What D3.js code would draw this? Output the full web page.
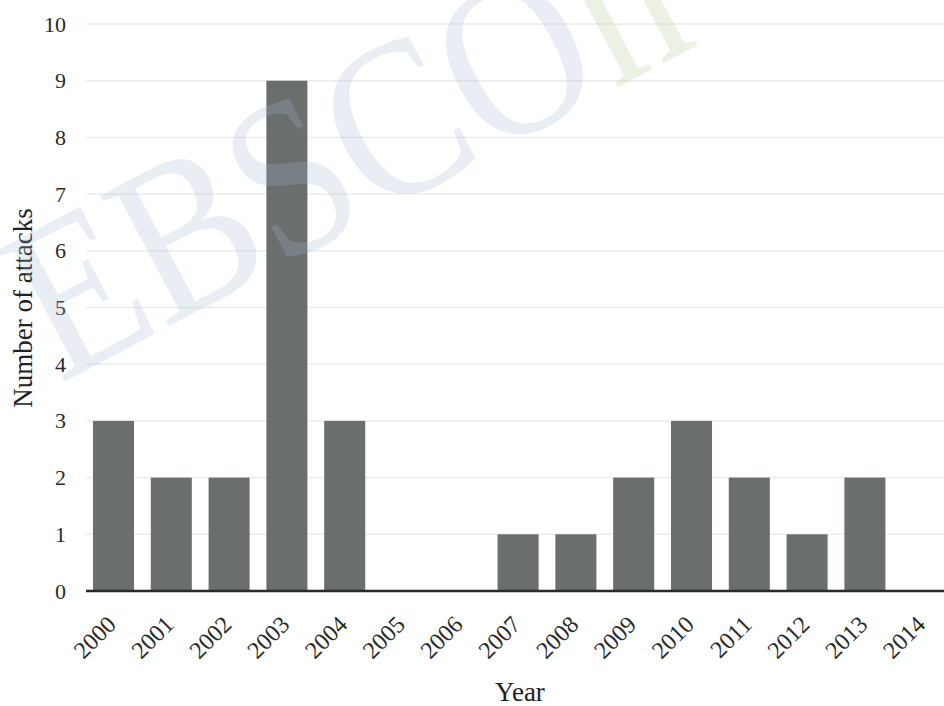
<!DOCTYPE html>
<html><head><meta charset="utf-8">
<script src="https://cdn.jsdelivr.net/npm/d3@7"></script>
<style>body{margin:0;background:#fff}svg{display:block}</style>
</head><body>
<svg id="c" width="944" height="706"></svg>
<script>
const years = ["2000","2001","2002","2003","2004","2005","2006","2007","2008","2009","2010","2011","2012","2013","2014"];
const attacks = [3,2,2,9,3,0,0,1,1,2,3,2,1,2,0];
const yTicks = [0,1,2,3,4,5,6,7,8,9,10];

const svg = d3.select("#c");
const font = "'Liberation Serif','Times New Roman',serif";

const x = d3.scaleBand().domain(years).range([84.6, 951.6]).paddingInner(0.29).paddingOuter(0.145);
const y = d3.scaleLinear().domain([0,10]).range([591, 24]);

// gridlines
svg.append("g").selectAll("line").data(yTicks.filter(d=>d>0)).join("line")
  .attr("x1",86).attr("x2",944).attr("y1",d=>y(d)).attr("y2",d=>y(d))
  .attr("stroke","#ececec").attr("stroke-width",1.5);

// bars
svg.append("g").selectAll("rect").data(years).join("rect")
  .attr("x",d=>x(d)).attr("width",x.bandwidth())
  .attr("y",(d,i)=>y(attacks[i])).attr("height",(d,i)=>y(0)-y(attacks[i]))
  .attr("fill","#6a6f6d");

// y axis
const ya = svg.append("g").attr("transform","translate(66,0)")
  .call(d3.axisLeft(y).tickValues(yTicks).tickSize(0).tickPadding(0));
ya.select(".domain").remove();
ya.selectAll("text").attr("font-family",font).attr("font-size",22).attr("fill","#2a2a2a");

// x axis
const xa = svg.append("g").attr("transform","translate(0,591)")
  .call(d3.axisBottom(x).tickSize(0).tickPadding(0));
xa.select(".domain").remove();
svg.append("line").attr("x1",86).attr("x2",944).attr("y1",591).attr("y2",591)
  .attr("stroke","#2a2a2a").attr("stroke-width",2.5);
xa.selectAll("text").attr("font-family",font).attr("font-size",24).attr("fill","#2a2a2a")
  .attr("text-anchor","end").attr("dy",0).attr("y",0)
  .attr("transform","translate(4,35) rotate(-45)");

// titles
svg.append("text").attr("x",520).attr("y",701).attr("text-anchor","middle")
  .attr("font-family",font).attr("font-size",27).attr("fill","#222").text("Year");
svg.append("text").attr("transform","translate(32,308) rotate(-90)").attr("text-anchor","middle")
  .attr("font-family",font).attr("font-size",27).attr("fill","#222").text("Number of attacks");

// watermark (semi-transparent, over the chart)
const wm = svg.append("g").attr("transform","translate(60,384) rotate(-28) scale(0.86,1)");
wm.append("text").attr("x",0).attr("y",0)
  .attr("font-family",font).attr("font-size",225)
  .attr("fill","#9db8d3").attr("fill-opacity",0.24).text("EBSCO");
wm.append("text").attr("x",730).attr("y",0)
  .attr("font-family",font).attr("font-size",225)
  .attr("fill","#b5cf9a").attr("fill-opacity",0.28).text("h");
</script>
</body></html>
